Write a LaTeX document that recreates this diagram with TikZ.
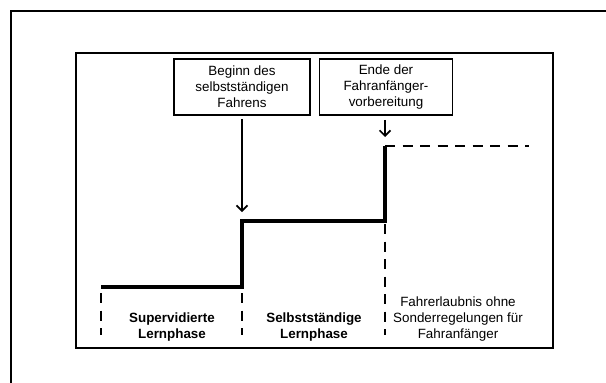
\documentclass[tikz,border=0pt]{standalone}
\usepackage{fontspec}
\setmainfont{Liberation Sans}
\usetikzlibrary{arrows.meta,positioning}

\tikzset{
  eventbox/.style={draw, line width=1.5pt, minimum width=136pt, minimum height=56pt,
    inner sep=2pt, align=center, font=\fontsize{13.4}{16}\selectfont},
  phaselabel/.style={align=center, inner sep=0pt, font=\fontsize{13.4}{16}\selectfont},
  stair/.style={line width=3.6pt},
  limit/.style={line width=2.2pt, dash pattern=on 10pt off 7.5pt},
}

\begin{document}
\begin{tikzpicture}[x=1pt, y=-1pt, >={Straight Barb[length=5.5pt,width=11pt]}]
  \useasboundingbox (0,0) rectangle (606,383);
  % frames
  \draw[line width=2.2pt] (11,383) -- (11,11) -- (606,11);
  \draw[line width=1.5pt] (76,53) rectangle (553,348);

  % events
  \node [eventbox] (begin) at (242,87) {Beginn des\\selbstständigen\\Fahrens};
  \node [eventbox, minimum width=133pt] (end) at (386,87) {Ende der\\Fahranfänger-\\vorbereitung};

  % stairs
  \coordinate (s0) at (101,287);
  \coordinate (s1) at (242,287);
  \coordinate (s2) at (242,221);
  \coordinate (s3) at (385,221);
  \coordinate (s4) at (385,146);
  \coordinate (s5) at (529,146);
  \draw [stair, line join=miter] (s0) -- (s1) -- (s2) -- (s3) -- (s4);
  \draw [limit] (s4) -- (s5);

  % arrows
  \coordinate (a1) at (242,212);
  \coordinate (a2) at (385,137);
  \draw [->, line width=1.7pt] (begin.south) ++(0,3) -- (a1);
  \draw [->, line width=1.7pt] (end.south -| a2) ++(0,4) -- (a2);

  % phase borders
  \draw [limit] (101,293) -- (101,335);
  \draw [limit] (242,293) -- (242,335);
  \draw [limit] (385,224) -- (385,335);

  % phases
  \node [phaselabel, font=\fontsize{13.4}{16}\selectfont\bfseries] (sup) at (172,327) {Supervidierte\\Lernphase};
  \node [phaselabel, font=\fontsize{13.4}{16}\selectfont\bfseries] (self) at (314,327) {Selbstständige\\Lernphase};
  \node [phaselabel] (full) at (458,319) {Fahrerlaubnis ohne\\Sonderregelungen für\\Fahranfänger};
\end{tikzpicture}
\end{document}
